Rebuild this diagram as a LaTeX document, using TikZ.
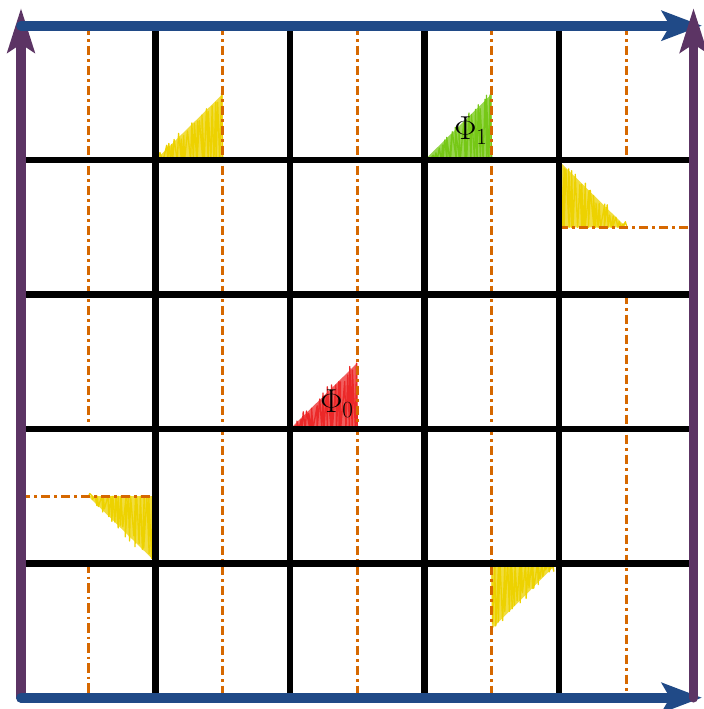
\documentclass[tikz,border=0pt]{standalone}
\usetikzlibrary{arrows.meta,calc}
\definecolor{gridblue}{RGB}{32,74,135}
\definecolor{gridpurple}{RGB}{92,52,100}
\definecolor{cutorange}{RGB}{214,104,0}
\definecolor{fluxyellow}{RGB}{237,210,0}
\definecolor{fluxgreen}{RGB}{118,200,22}
\definecolor{fluxred}{RGB}{236,40,40}
\tikzset{
  cellline/.style={line width=5.2pt, black},
  cutline/.style={cutorange, line width=2.1pt, dash pattern=on 7pt off 3pt on 2pt off 3pt},
  bluearrow/.style={gridblue, line width=7.3pt, line cap=round, -{Stealth[length=30pt,width=22pt,inset=6pt]}},
  purplearrow/.style={gridpurple, line width=7.3pt, line cap=round, -{Stealth[length=33pt,width=20pt,inset=6pt]}},
  fluxlabel/.style={font=\fontsize{26}{30}\selectfont, inner sep=0pt}
}
% #1 colour, #2 right-angle corner P, #3 end of horizontal leg Q, #4 end of vertical leg R
\newcommand\scribtri[4]{%
  \fill[#1!75!white] (#2) -- (#3) -- (#4) -- cycle;
  \draw[#1, line width=1pt, line join=round] (#2)
    \foreach \i in {1,...,22} {
      -- ($(#4)!\i/22-0.0227!(#3)+(rand*1.5,rand*5)$)
      -- ($(#2)!\i/22!(#3)+(rand*1.5,0)$)
    };
}
\begin{document}
\begin{tikzpicture}[x=0.75pt,y=-0.75pt]
\pgfmathsetseed{7}
\useasboundingbox (0,0) rectangle (703,709);
% flux triangles
\scribtri{fluxyellow}{222.75,160}{155.5,160}{222.75,94}
\scribtri{fluxgreen}{491.75,160}{424.5,160}{491.75,94}
\scribtri{fluxred}{357.25,429}{290,429}{357.25,363}
\scribtri{fluxyellow}{559,227.3}{626.25,227.3}{559,161}
\scribtri{fluxyellow}{155.5,496.2}{88.25,496.2}{155.5,562}
\scribtri{fluxyellow}{491.75,563.3}{557,563.3}{491.75,629}
% cut lines
\draw[cutline] (88.25,25.7) -- (88.25,429);
\draw[cutline] (88.25,563.3) -- (88.25,697.7);
\draw[cutline] (21,496.2) -- (155.5,496.2);
\draw[cutline] (222.75,25.7) -- (222.75,697.7);
\draw[cutline] (357.25,25.7) -- (357.25,697.7);
\draw[cutline] (491.75,25.7) -- (491.75,697.7);
\draw[cutline] (626.25,25.7) -- (626.25,160);
\draw[cutline] (559,227.3) -- (693.5,227.3);
\draw[cutline] (626.25,294.5) -- (626.25,697.7);
% lattice
\foreach \x in {155.5,290,424.5,559} \draw[cellline] (\x,25.7) -- (\x,697.7);
\foreach \y in {160,294.5,429,563.3} \draw[cellline] (21,\y) -- (693.5,\y);
% boundary arrows
\draw[purplearrow] (21,697.7) -- (21,8);
\draw[bluearrow] (21,25.7) -- (702,25.7);
\draw[bluearrow] (21,697.7) -- (702,697.7);
\draw[purplearrow] (693.5,697.7) -- (693.5,8);
% labels
\node[fluxlabel] (phi1) at (471,131) {$\Phi_1$};
\node[fluxlabel] (phi0) at (337,404) {$\Phi_0$};
\end{tikzpicture}
\end{document}
